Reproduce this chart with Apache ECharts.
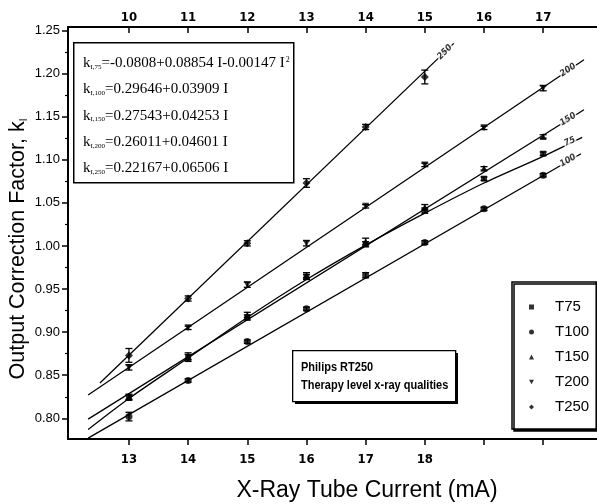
<!DOCTYPE html>
<html><head><meta charset="utf-8">
<script src="https://cdn.jsdelivr.net/npm/echarts@6/dist/echarts.min.js"></script>
<style>html,body{margin:0;padding:0;background:#fff}#c{width:597px;height:504px}</style>
</head><body><div id="c"></div>
<script>
// ---- data ----
const currentBottom = [13, 14, 15, 16, 17, 18, 19, 20];   // mA, bottom axis
const current250 = [10, 11, 12, 13, 14, 15];              // mA, top axis
const t75  = [0.824, 0.870, 0.917, 0.964, 1.002, 1.041, 1.078, 1.107];
const t100 = [0.802, 0.844, 0.889, 0.927, 0.966, 1.004, 1.043, 1.082];
const t150 = [0.825, 0.872, 0.920, 0.966, 1.005, 1.045, 1.090, 1.127];
const t200 = [0.859, 0.905, 0.955, 1.003, 1.046, 1.094, 1.137, 1.183];
const t250 = [0.873, 0.939, 1.003, 1.073, 1.138, 1.196];
const err75  = [0.003, 0.004, 0.003, 0.003, 0.003, 0.003, 0.002, 0.002];
const err100 = [0.005, 0.002, 0.002, 0.002, 0.003, 0.002, 0.002, 0.002];
const err150 = [0.003, 0.004, 0.003, 0.003, 0.004, 0.003, 0.002, 0.002];
const err200 = [0.003, 0.002, 0.003, 0.003, 0.002, 0.002, 0.002, 0.003];
const err250 = [0.008, 0.003, 0.003, 0.005, 0.003, 0.008];
// fitted curves
const fit75X  = [12.31, 13, 14, 15, 16, 17, 18, 19, 20, 20.66];
const fit75Y  = [0.787, 0.823, 0.870, 0.917, 0.961, 1.001, 1.038, 1.073, 1.104, 1.126];
const fit100X = [12.31, 20.64];  const fit100Y = [0.777, 1.107];
const fit150X = [12.31, 20.69];  const fit150Y = [0.799, 1.158];
const fit200X = [12.31, 20.69];  const fit200Y = [0.827, 1.216];
const fit250X = [9.51, 15.49];   const fit250Y = [0.841, 1.235];
// curve labels
const curveLabels = ['75', '100', '150', '200'];
const curveLabelX = [20.45, 20.42, 20.42, 20.42];
const curveLabelY = [1.121, 1.099, 1.147, 1.204];
const curveLabelRot = [24, 30, 32, 34];
const label250 = {text: '250', x: 15.34, y: 1.225, rot: 45};
// axes
const bottomTicks = [13, 14, 15, 16, 17, 18, 19, 20];
const bottomLabels = [13, 14, 15, 16, 17, 18];
const topTicks = [10, 11, 12, 13, 14, 15, 16, 17];
const yTicks = [0.80, 0.85, 0.90, 0.95, 1.00, 1.05, 1.10, 1.15, 1.20, 1.25];
const yMinor = [0.825, 0.875, 0.925, 0.975, 1.025, 1.075, 1.125, 1.175, 1.225];
const equations = [
  ['I,75', '=-0.0808+0.08854 I-0.00147 I', '2'],
  ['I,100', '=0.29646+0.03909 I', ''],
  ['I,150', '=0.27543+0.04253 I', ''],
  ['I,200', '=0.26011+0.04601 I', ''],
  ['I,250', '=0.22167+0.06506 I', '']
];

const FONT = "'Liberation Sans',Arial,sans-serif";
const FONT_N = "'Liberation Sans Narrow','DejaVu Sans Condensed','Liberation Sans',sans-serif";
const SERIF = "'Liberation Serif','DejaVu Serif',serif";
const BLACK = '#000';
const INV_TRI = 'path://M0,0L10,0L5,9Z';

const zip = (xs, ys) => xs.map((x, i) => [x, ys[i]]);

function fitLine(xs, ys, axis, smooth) {
  return {type: 'line', xAxisIndex: axis, yAxisIndex: 0, data: zip(xs, ys), symbol: 'none',
    smooth: smooth ? 0.3 : false, silent: true, z: 3,
    lineStyle: {color: BLACK, width: 1.3}};
}
function points(name, xs, ys, axis, symbol, size) {
  return {name, type: 'scatter', xAxisIndex: axis, yAxisIndex: 0, data: zip(xs, ys),
    symbol, symbolSize: size, itemStyle: {color: BLACK}, z: 6};
}
function errBars(xs, ys, es, axis) {
  return {type: 'custom', xAxisIndex: axis, yAxisIndex: 0, silent: true, z: 5,
    data: xs.map((x, i) => [x, ys[i], es[i]]), encode: {x: 0, y: 1},
    renderItem: (params, api) => {
      const x = api.value(0), y = api.value(1), e = api.value(2);
      const p1 = api.coord([x, y + e]), p2 = api.coord([x, y - e]);
      const w = 3.5, st = {stroke: BLACK, lineWidth: 1.3};
      return {type: 'group', children: [
        {type: 'line', shape: {x1: p1[0], y1: p1[1], x2: p2[0], y2: p2[1]}, style: st},
        {type: 'line', shape: {x1: p1[0] - w, y1: p1[1], x2: p1[0] + w, y2: p1[1]}, style: st},
        {type: 'line', shape: {x1: p2[0] - w, y1: p2[1], x2: p2[0] + w, y2: p2[1]}, style: st}
      ]};
    }};
}
const lblStyle = {show: true, position: 'inside', color: BLACK, fontFamily: FONT_N, fontSize: 9,
  fontWeight: 'bold', fontStyle: 'italic', backgroundColor: '#fff', padding: [0, 1]};

const chart = echarts.init(document.getElementById('c'), null, {renderer: 'canvas'});
const option = {
  animation: false,
  backgroundColor: '#fff',
  grid: {left: 68, top: 27, right: 0, bottom: 65, containLabel: false},
  xAxis: [
    {type: 'value', position: 'bottom', min: 11.97, max: 20.91,
      axisLine: {show: true, onZero: false, lineStyle: {color: BLACK, width: 2}},
      axisTick: {show: true, inside: false, length: 6, customValues: bottomTicks, lineStyle: {color: BLACK, width: 1.5}},
      axisLabel: {customValues: bottomLabels, margin: 14, fontFamily: FONT_N, fontSize: 13, fontWeight: 'bold', color: BLACK},
      splitLine: {show: false}},
    {type: 'value', position: 'top', min: 8.97, max: 17.91,
      axisLine: {show: true, onZero: false, lineStyle: {color: BLACK, width: 2}},
      axisTick: {show: true, inside: true, length: 6, customValues: topTicks, lineStyle: {color: BLACK, width: 1.5}},
      axisLabel: {customValues: topTicks, margin: 3, fontFamily: FONT_N, fontSize: 13, fontWeight: 'bold', color: BLACK},
      splitLine: {show: false}}
  ],
  yAxis: [
    {type: 'value', min: 0.776, max: 1.254,
      axisLine: {show: true, onZero: false, lineStyle: {color: BLACK, width: 2}},
      axisTick: {show: true, inside: false, length: 6, customValues: yTicks, lineStyle: {color: BLACK, width: 1.5}},
      axisLabel: {customValues: yTicks, margin: 8, formatter: v => v.toFixed(2), fontFamily: FONT, fontSize: 13, color: BLACK},
      splitLine: {show: false}},
    {type: 'value', min: 0.776, max: 1.254, position: 'left',
      axisLine: {show: false},
      axisTick: {show: true, inside: false, length: 3, customValues: yMinor, lineStyle: {color: BLACK, width: 1.2}},
      axisLabel: {show: false}, splitLine: {show: false}}
  ],
  legend: {
    orient: 'vertical', left: 512, top: 282, selectedMode: false,
    data: ['T75', 'T100', 'T150', 'T200', 'T250'],
    itemWidth: 5, itemHeight: 5, itemGap: 9, padding: [17, 7, 14, 17],
    borderColor: BLACK, borderWidth: 1.5, backgroundColor: '#fff',
    shadowColor: BLACK, shadowBlur: 0, shadowOffsetX: 2, shadowOffsetY: 2,
    textStyle: {fontFamily: FONT, fontSize: 15, color: BLACK, lineHeight: 16, padding: [0, 0, 0, 16]}
  },
  series: [
    fitLine(fit75X, fit75Y, 0, true),
    fitLine(fit100X, fit100Y, 0),
    fitLine(fit150X, fit150Y, 0),
    fitLine(fit200X, fit200Y, 0),
    fitLine(fit250X, fit250Y, 1),
    errBars(currentBottom, t75, err75, 0),
    errBars(currentBottom, t100, err100, 0),
    errBars(currentBottom, t150, err150, 0),
    errBars(currentBottom, t200, err200, 0),
    errBars(current250, t250, err250, 1),
    points('T75', currentBottom, t75, 0, 'rect', 6),
    points('T100', currentBottom, t100, 0, 'circle', 7),
    points('T150', currentBottom, t150, 0, 'triangle', 7),
    points('T200', currentBottom, t200, 0, INV_TRI, 7),
    points('T250', current250, t250, 1, 'diamond', 8),
    {type: 'scatter', xAxisIndex: 0, yAxisIndex: 0, symbolSize: 0, silent: true, z: 8,
      data: curveLabels.map((t, i) => ({value: [curveLabelX[i], curveLabelY[i]],
        label: Object.assign({}, lblStyle, {formatter: t, rotate: curveLabelRot[i]})}))},
    {type: 'scatter', xAxisIndex: 1, yAxisIndex: 0, symbolSize: 0, silent: true, z: 8,
      data: [{value: [label250.x, label250.y],
        label: Object.assign({}, lblStyle, {formatter: label250.text, rotate: label250.rot})}]}
  ],
  graphic: [
    // equation box
    {type: 'rect', left: 73, top: 42, z: 10, shape: {width: 220, height: 140},
      style: {fill: '#fff', stroke: BLACK, lineWidth: 1.5}},
    ...equations.map((eq, i) => ({
      type: 'text', z: 11, x: 83, y: 63 + i * 26.3,
      style: {
        text: '{k|k}{s|' + eq[0] + '}{k|' + eq[1] + '}' + (eq[2] ? '{p|' + eq[2] + '}' : ''),
        verticalAlign: 'middle', fill: BLACK,
        rich: {
          k: {fontFamily: SERIF, fontSize: 15, fill: BLACK, verticalAlign: 'middle'},
          s: {fontFamily: SERIF, fontSize: 7, fill: BLACK, verticalAlign: 'bottom', padding: [6, 0, 0, 0]},
          p: {fontFamily: SERIF, fontSize: 8, fill: BLACK, verticalAlign: 'top', padding: [0, 0, 6, 1]}
        }
      }
    })),
    // Philips box (hard shadow + frame)
    {type: 'rect', left: 295, top: 353, z: 10, shape: {width: 163, height: 51},
      style: {fill: BLACK}},
    {type: 'rect', left: 292, top: 350, z: 10, shape: {width: 163, height: 51},
      style: {fill: '#fff', stroke: BLACK, lineWidth: 1.3}},
    {type: 'text', z: 11, x: 301, y: 368, scaleX: 0.88,
      style: {text: 'Philips RT250', fontFamily: FONT, fontSize: 12.5, fontWeight: 'bold', fill: BLACK, verticalAlign: 'middle'}},
    {type: 'text', z: 11, x: 301, y: 386, scaleX: 0.88,
      style: {text: 'Therapy level x-ray qualities', fontFamily: FONT, fontSize: 12.5, fontWeight: 'bold', fill: BLACK, verticalAlign: 'middle'}},
    // axis titles
    {type: 'text', z: 11, x: 367, y: 491,
      style: {text: 'X-Ray Tube Current (mA)', fontFamily: FONT, fontSize: 23, fill: BLACK, align: 'center', verticalAlign: 'middle'}},
    {type: 'text', z: 11, x: 18, y: 249, rotation: Math.PI / 2,
      style: {text: '{t|Output Correction Factor, k}{s|I}', align: 'center', verticalAlign: 'middle',
        rich: {t: {fontFamily: FONT, fontSize: 21.5, fill: BLACK}, s: {fontFamily: FONT, fontSize: 10, fill: BLACK, verticalAlign: 'bottom'}}}}
  ]
};
chart.setOption(option);
</script></body></html>
